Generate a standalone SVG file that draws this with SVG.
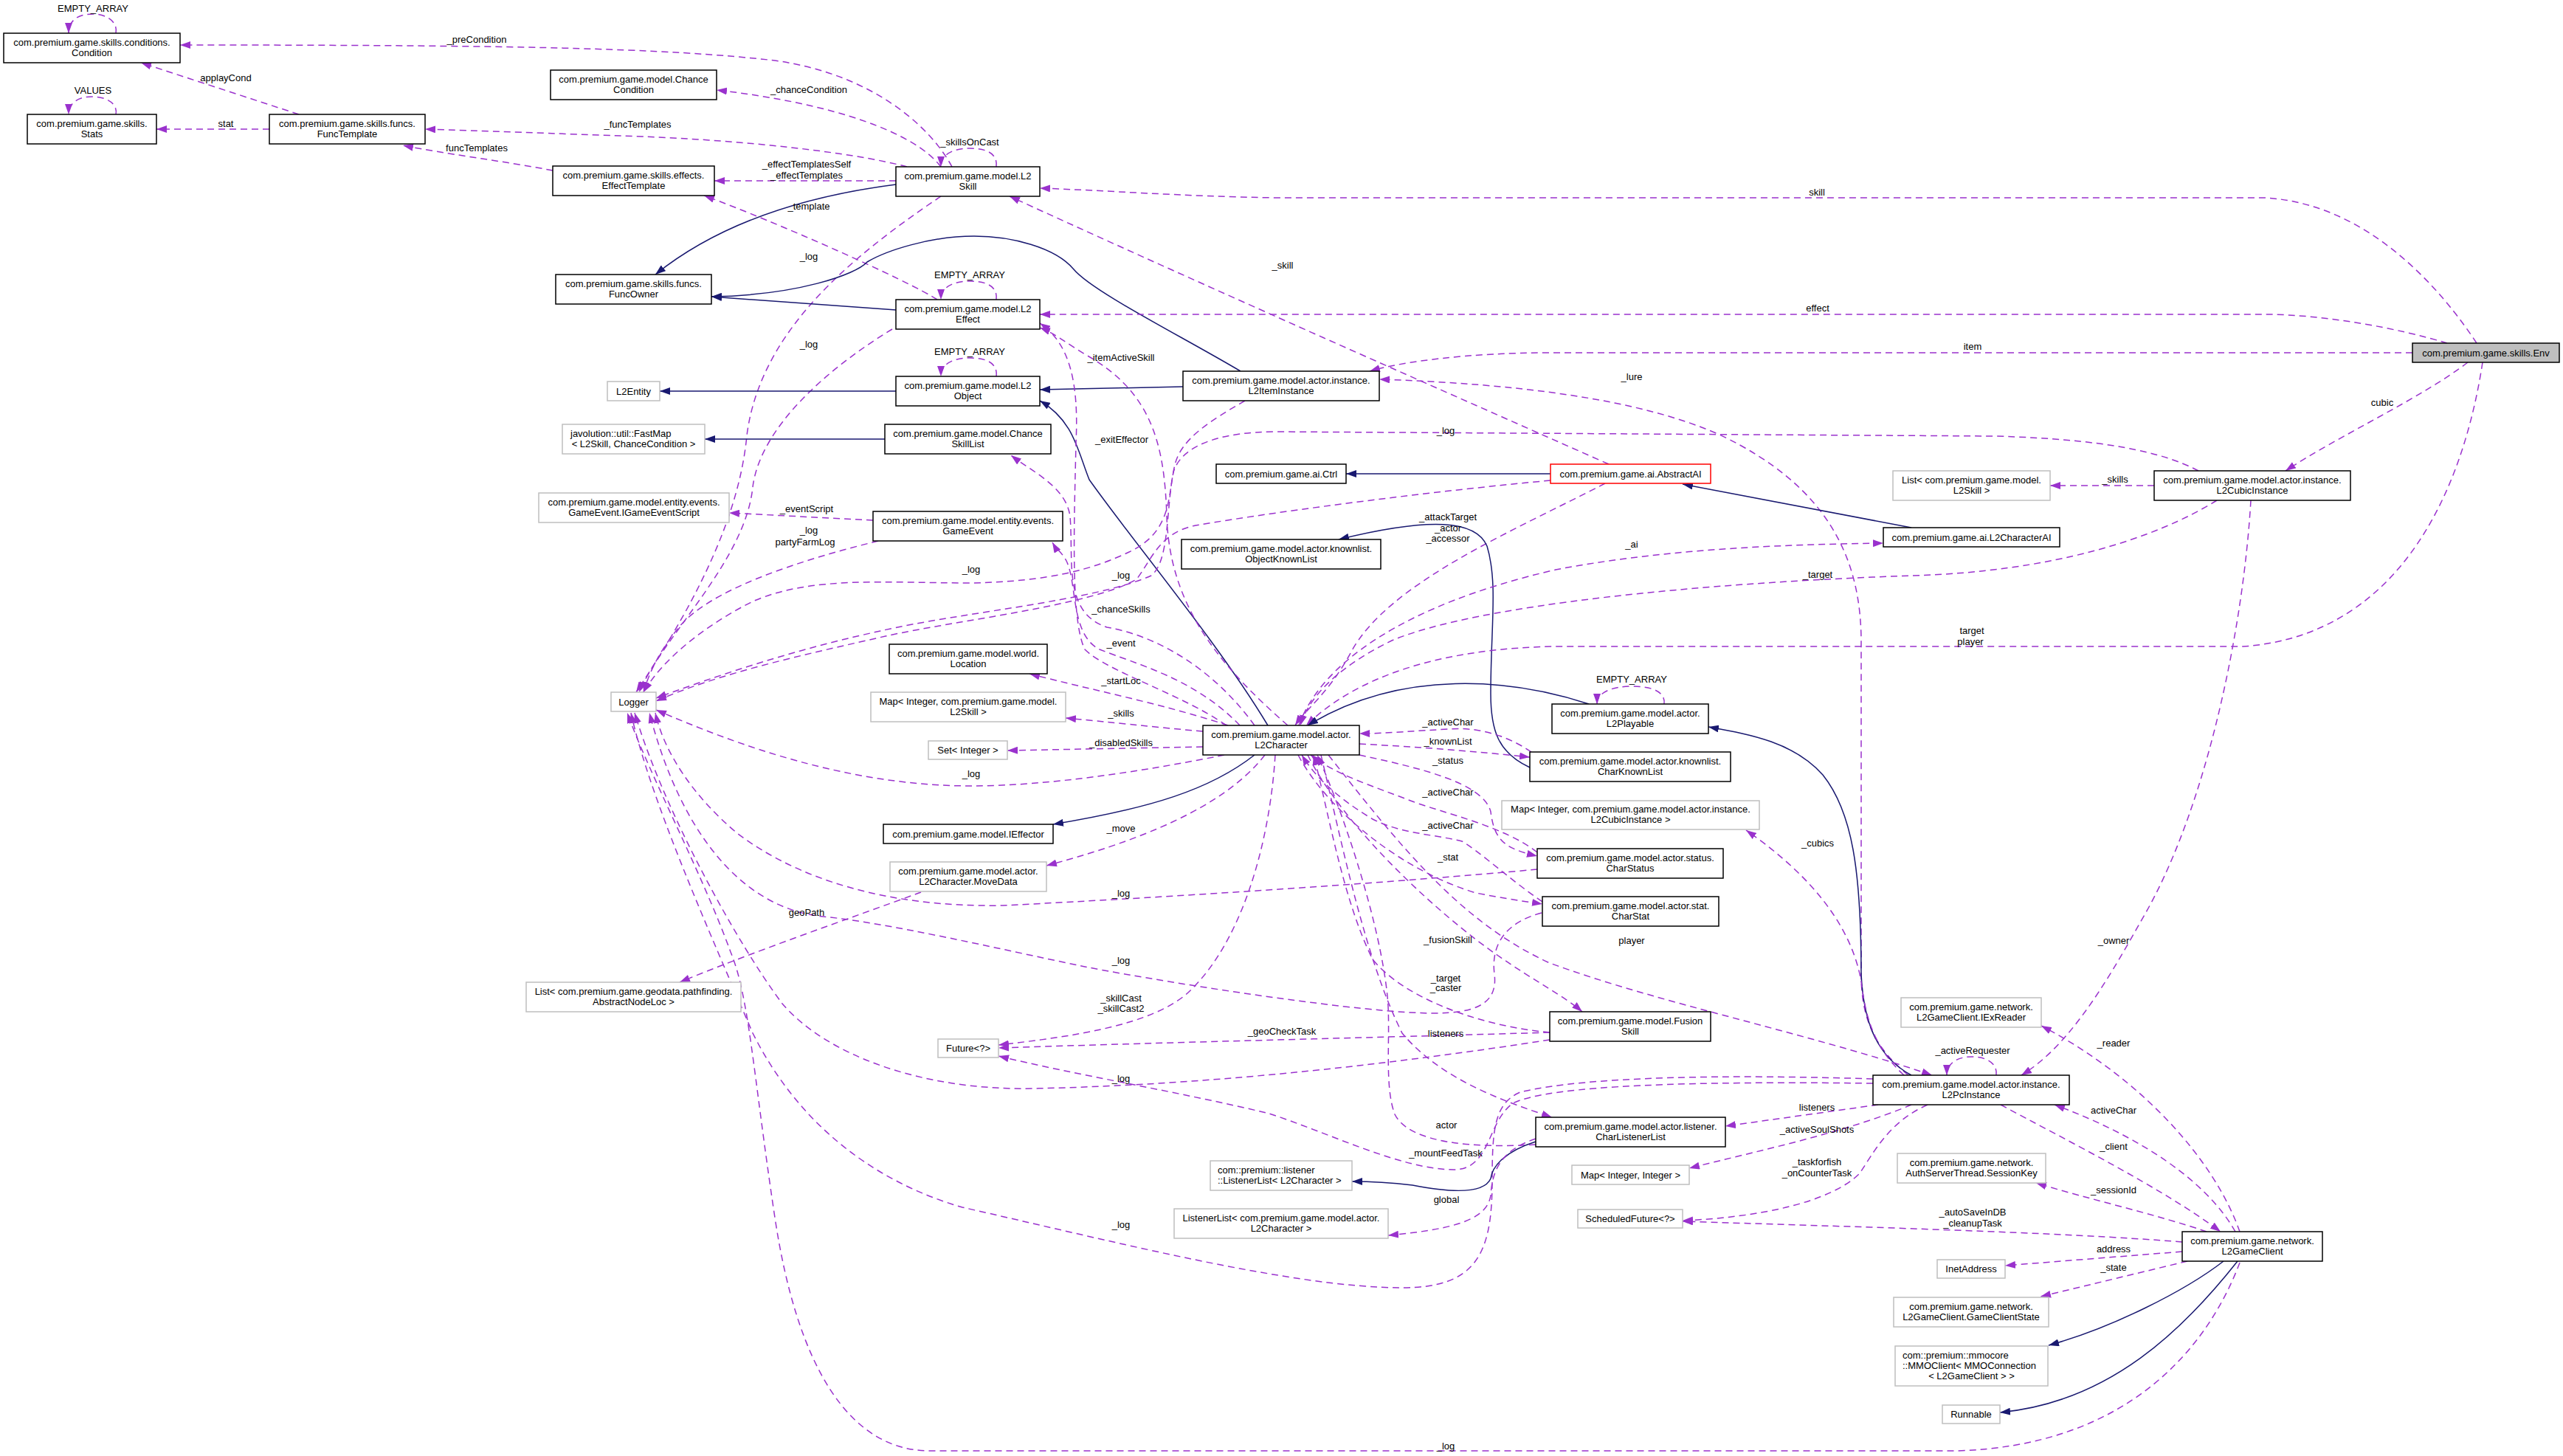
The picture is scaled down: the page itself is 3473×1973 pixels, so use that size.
<svg xmlns="http://www.w3.org/2000/svg" width="3473" height="1973" viewBox="0 0 3473 1973">
<style>
text{font-family:"Liberation Sans",Arial,sans-serif;font-size:13px;fill:#000}
.n text,.l text{text-anchor:middle}
.n text.st{text-anchor:start}
.n rect{fill:#fff;stroke:#000;stroke-width:1.5}
.n.g rect{stroke:#bfbfbf}
.n.r rect{stroke:#ff0000}
.n.s rect{fill:#bfbfbf}
.e{fill:none;stroke:#9a32cd;stroke-width:1.5;stroke-dasharray:9,6;marker-end:url(#ap)}
.i{fill:none;stroke:#191970;stroke-width:1.5;marker-end:url(#an)}
</style>
<defs>
<marker id="ap" viewBox="0 0 14 10" refX="14" refY="5" markerWidth="14" markerHeight="10" markerUnits="userSpaceOnUse" orient="auto"><path d="M0,0 L14,5 L0,10 z" fill="#9a32cd"/></marker>
<marker id="an" viewBox="0 0 14 10" refX="14" refY="5" markerWidth="14" markerHeight="10" markerUnits="userSpaceOnUse" orient="auto"><path d="M0,0 L14,5 L0,10 z" fill="#191970"/></marker>
</defs>
<rect width="3473" height="1973" fill="#fff"/>
<g id="edges">
<path class="e" d="M157,45 C160,30 145,19 126,19 C105,19 93,28 93,45"/>
<path class="e" d="M157,155 C160,141 145,131 125,131 C105,131 93,140 93,155"/>
<path class="e" d="M1290,226 C1260,170 1180,100 1050,82 C900,65 700,61 244,61"/>
<path class="e" d="M405,155 L191,85"/>
<path class="e" d="M365,175 L212,175"/>
<path class="e" d="M1275,226 C1240,180 1130,140 971,122"/>
<path class="e" d="M1229,226 C1150,205 1000,190 870,185 C750,181 650,177 576,175"/>
<path class="e" d="M1350,226 C1352,210 1340,201 1314,201 C1290,201 1275,210 1275,226"/>
<path class="e" d="M1214,245 L968,245"/>
<path class="e" d="M749,231 C680,218 600,208 546,197"/>
<path class="i" d="M1214,250 C1120,262 990,290 888,372"/>
<path class="e" d="M1270,406 C1230,380 1050,300 954,265"/>
<path class="e" d="M1275,266 C1150,350 1030,450 1012,590 C1000,720 920,850 862,938"/>
<path class="e" d="M1209,446 C1120,500 1030,580 1020,660 C1010,760 900,860 866,938"/>
<path class="i" d="M1214,420 L964,402"/>
<path class="i" d="M1681,503 C1600,455 1480,395 1455,365 C1430,335 1370,320 1320,320 C1260,320 1200,340 1175,355 C1160,372 1080,400 964,402"/>
<path class="e" d="M1350,406 C1352,390 1340,381 1314,381 C1290,381 1275,390 1275,406"/>
<path class="e" d="M1350,510 C1352,494 1340,485 1314,485 C1290,485 1275,494 1275,510"/>
<path class="i" d="M1214,530 L894,530"/>
<path class="i" d="M1603,524 L1409,528"/>
<path class="i" d="M1199,595 L955,595"/>
<path class="i" d="M1718,983 C1650,870 1540,740 1476,650 C1460,610 1455,570 1409,543"/>
<path class="e" d="M1745,983 C1650,900 1585,820 1581,700 C1578,600 1560,530 1470,480 C1445,465 1430,452 1409,444"/>
<path class="e" d="M1662,983 C1600,940 1500,910 1470,880 C1450,840 1456,700 1458,600 C1462,520 1450,465 1409,438"/>
<path class="e" d="M1700,983 C1640,900 1560,860 1500,850 C1440,830 1455,760 1450,700 C1445,660 1400,640 1370,617"/>
<path class="e" d="M1680,983 C1620,920 1540,900 1490,880 C1450,860 1460,790 1445,760 C1440,750 1430,742 1426,735"/>
<path class="e" d="M3356,465 C3310,395 3210,275 3068,268 L1730,268 C1600,266 1500,258 1409,255"/>
<path class="e" d="M2180,629 C1900,505 1650,395 1368,266"/>
<path class="e" d="M3316,465 C3250,445 3150,426 3068,426 L1409,426"/>
<path class="e" d="M3269,478 L2100,478 C1990,478 1900,490 1856,503"/>
<path class="e" d="M2586,1457 C2540,1420 2522,1380 2522,1320 L2522,870 C2522,760 2480,660 2330,589 C2220,540 2053,520 1869,514"/>
<path class="e" d="M2979,638 C2930,612 2850,595 2703,591 L1730,585 C1650,585 1600,605 1590,640 C1580,690 1585,760 1560,780 C1480,815 1300,830 1193,855 C1100,875 1000,905 889,946"/>
<path class="e" d="M1687,543 C1640,570 1600,595 1592,630 C1582,670 1590,720 1530,748 C1480,772 1420,788 1316,790 C1200,790 1100,780 1020,815 C960,845 900,890 872,938"/>
<path class="e" d="M2101,651 C1950,665 1750,690 1620,712 C1570,722 1560,760 1540,785 C1480,820 1300,840 1200,862 C1100,885 980,910 889,950"/>
<path class="e" d="M2175,655 C2050,720 1880,790 1830,885 C1800,940 1770,960 1755,983"/>
<path class="i" d="M2073,1040 C2030,1020 2020,990 2020,940 C2020,850 2030,790 2015,740 C2000,705 1940,700 1814,731"/>
<path class="e" d="M1760,983 C1790,900 1900,820 2108,772 C2250,745 2400,738 2552,736"/>
<path class="e" d="M3004,678 C2920,730 2780,775 2590,780 C2300,790 2000,820 1886,868 C1820,900 1775,940 1762,983"/>
<path class="e" d="M3364,491 C3340,650 3260,860 3040,876 L2108,876 C1980,878 1850,905 1770,983"/>
<path class="i" d="M2153,954 C2050,920 1900,905 1772,983"/>
<path class="e" d="M2255,954 C2257,938 2240,930 2211,930 C2185,930 2164,938 2164,954"/>
<path class="i" d="M2590,1457 C2540,1430 2525,1380 2522,1320 C2522,1180 2510,1100 2470,1050 C2430,1005 2370,995 2315,985"/>
<path class="e" d="M2580,1457 C2540,1420 2528,1380 2522,1330 C2510,1260 2460,1190 2366,1125"/>
<path class="e" d="M3050,678 C3040,850 2990,1100 2900,1250 C2850,1340 2800,1420 2739,1457"/>
<path class="e" d="M3035,1669 C3000,1570 2900,1460 2766,1390"/>
<path class="e" d="M2705,1457 C2707,1441 2692,1432 2672,1432 C2652,1432 2638,1441 2638,1457"/>
<path class="e" d="M3029,1669 C2990,1600 2900,1540 2784,1497"/>
<path class="e" d="M2711,1497 C2800,1545 2930,1610 3009,1669"/>
<path class="e" d="M2990,1669 C2920,1645 2830,1625 2759,1603"/>
<path class="e" d="M2957,1683 C2800,1670 2500,1662 2280,1655"/>
<path class="e" d="M2612,1497 C2560,1520 2540,1560 2520,1590 C2480,1630 2380,1650 2280,1654"/>
<path class="e" d="M2590,1497 C2500,1535 2380,1560 2289,1583"/>
<path class="e" d="M2545,1497 L2338,1526"/>
<path class="e" d="M2957,1696 L2717,1715"/>
<path class="e" d="M2964,1709 L2765,1757"/>
<path class="i" d="M3013,1709 C2960,1750 2860,1800 2776,1823"/>
<path class="i" d="M3032,1709 C2960,1800 2860,1900 2710,1914"/>
<path class="e" d="M3035,1711 C2990,1830 2880,1960 2650,1966 L1260,1966 C1150,1966 1080,1850 1050,1650 C1020,1450 1015,1350 990,1290 C950,1180 880,1050 850,966"/>
<path class="e" d="M2083,1178 C1900,1195 1600,1215 1359,1227 C1200,1230 1080,1190 1000,1130 C940,1080 900,1020 888,966"/>
<path class="e" d="M2089,1237 C2040,1250 2020,1280 2025,1320 C2030,1360 2000,1373 1942,1373 C1850,1373 1600,1335 1470,1310 C1350,1285 1200,1250 1115,1242 C1000,1230 920,1120 880,966"/>
<path class="e" d="M2100,1409 C1900,1440 1650,1470 1400,1475 C1250,1478 1120,1430 1060,1360 C1000,1280 900,1100 860,966"/>
<path class="e" d="M2538,1462 C2350,1456 2150,1458 2060,1480 C2025,1495 2022,1530 2022,1600 C2022,1700 2000,1745 1900,1745 C1750,1745 1500,1680 1304,1636 C1180,1600 1080,1520 1020,1400 C960,1260 880,1080 855,966"/>
<path class="e" d="M2538,1468 C2300,1465 2100,1470 2050,1495 C2015,1520 2020,1585 1970,1585 C1900,1585 1800,1535 1720,1509 C1600,1480 1450,1455 1353,1431"/>
<path class="e" d="M2081,1551 C2000,1556 1910,1550 1890,1510 C1875,1470 1885,1400 1880,1350 C1870,1250 1820,1100 1785,1023"/>
<path class="e" d="M1790,1023 C1820,1150 1850,1300 1900,1400 C1950,1460 2030,1490 2103,1514"/>
<path class="e" d="M1772,1023 C1820,1120 1950,1240 2030,1295 C2080,1330 2120,1350 2144,1371"/>
<path class="e" d="M2100,1399 C2000,1390 1900,1350 1860,1300 C1820,1220 1800,1100 1780,1023"/>
<path class="e" d="M1800,1023 C1900,1150 1980,1250 2100,1305 C2250,1360 2450,1400 2618,1457"/>
<path class="e" d="M2075,1019 C2040,995 2000,985 1964,988 C1920,990 1880,994 1842,994"/>
<path class="e" d="M1842,1008 C1920,1012 2000,1018 2073,1026"/>
<path class="e" d="M1842,1023 C1920,1040 2010,1060 2020,1100 C2025,1140 2040,1150 2083,1160"/>
<path class="e" d="M2083,1155 C2040,1120 1950,1100 1914,1086 C1860,1065 1810,1050 1776,1023"/>
<path class="e" d="M2090,1222 C2050,1195 2000,1150 1981,1140 C1940,1130 1900,1130 1860,1110 C1810,1080 1780,1050 1764,1023"/>
<path class="e" d="M1759,1023 C1800,1100 1900,1180 2000,1210 C2040,1218 2070,1222 2090,1225"/>
<path class="e" d="M1664,983 C1580,955 1480,935 1395,913"/>
<path class="e" d="M1630,991 C1560,985 1500,978 1444,973"/>
<path class="e" d="M1630,1012 L1365,1017"/>
<path class="e" d="M1659,1023 C1550,1045 1420,1065 1316,1065 C1150,1065 1000,1010 889,962"/>
<path class="i" d="M1700,1023 C1640,1070 1560,1095 1427,1117"/>
<path class="e" d="M1714,1023 C1670,1080 1580,1130 1418,1173"/>
<path class="e" d="M1728,1023 C1720,1150 1680,1280 1610,1345 C1560,1390 1450,1405 1353,1416"/>
<path class="e" d="M2100,1399 C1900,1405 1600,1412 1353,1420"/>
<path class="e" d="M1248,1209 C1150,1245 1020,1290 921,1331"/>
<path class="i" d="M2081,1547 C2040,1560 2022,1580 2020,1597 C2010,1620 1960,1615 1914,1606 C1880,1602 1850,1601 1832,1601"/>
<path class="e" d="M2081,1543 C2030,1560 2022,1590 2020,1620 C2015,1650 1980,1665 1881,1674"/>
<path class="e" d="M1183,705 L988,695"/>
<path class="e" d="M1190,733 C1080,760 960,800 920,850 C895,880 880,910 872,938"/>
<path class="i" d="M2101,642 L1824,642"/>
<path class="i" d="M2590,715 L2280,656"/>
<path class="e" d="M2919,658 L2778,658"/>
<path class="e" d="M3344,491 C3280,540 3170,590 3097,638"/>
</g>
<g id="labels" class="l">
<text x="126" y="16">EMPTY_ARRAY</text>
<text x="646" y="58">_preCondition</text>
<text x="126" y="126.5">VALUES</text>
<text x="306" y="109.5">applayCond</text>
<text x="306" y="171.5">stat</text>
<text x="1096" y="125.5">_chanceCondition</text>
<text x="864" y="172.5">_funcTemplates</text>
<text x="646" y="204.5">funcTemplates</text>
<text x="1314" y="196.5">_skillsOnCast</text>
<text x="1093" y="226.5">_effectTemplatesSelf</text>
<text x="1093" y="241.5">_effectTemplates</text>
<text x="2462" y="264.5">skill</text>
<text x="1096" y="283.5">_template</text>
<text x="1096" y="351.5">_log</text>
<text x="1738" y="363.5">_skill</text>
<text x="1314" y="376.5">EMPTY_ARRAY</text>
<text x="2463" y="422">effect</text>
<text x="1096" y="470.5">_log</text>
<text x="2673" y="473.5">item</text>
<text x="1314" y="480.5">EMPTY_ARRAY</text>
<text x="1519" y="489">_itemActiveSkill</text>
<text x="2211" y="515">_lure</text>
<text x="3228" y="549.5">cubic</text>
<text x="1959" y="587.5">_log</text>
<text x="1520" y="599.5">_exitEffector</text>
<text x="2866" y="654">_skills</text>
<text x="1093" y="693.5">_eventScript</text>
<text x="1962" y="704.5">_attackTarget</text>
<text x="1962" y="719.5">_actor</text>
<text x="1962" y="734">_accessor</text>
<text x="1096" y="722.5">_log</text>
<text x="1091" y="738.5">partyFarmLog</text>
<text x="2211" y="742">_ai</text>
<text x="1316" y="775.5">_log</text>
<text x="1519" y="783.5">_log</text>
<text x="2463" y="782.5">_target</text>
<text x="1519" y="829.5">_chanceSkills</text>
<text x="2672" y="858.5">target</text>
<text x="2670" y="873.5">player</text>
<text x="1519" y="875.5">_event</text>
<text x="2211" y="924.5">EMPTY_ARRAY</text>
<text x="1519" y="927">_startLoc</text>
<text x="1519" y="970.5">_skills</text>
<text x="1962" y="983">_activeChar</text>
<text x="1962" y="1008.5">_knownList</text>
<text x="1519" y="1010.5">_disabledSkills</text>
<text x="1962" y="1035">_status</text>
<text x="1316" y="1053">_log</text>
<text x="1962" y="1078">_activeChar</text>
<text x="1962" y="1123">_activeChar</text>
<text x="1519" y="1127">_move</text>
<text x="2463" y="1147">_cubics</text>
<text x="1962" y="1166">_stat</text>
<text x="1519" y="1214.5">_log</text>
<text x="1093" y="1241">geoPath</text>
<text x="1962" y="1277.5">_fusionSkill</text>
<text x="2211" y="1279">player</text>
<text x="2864" y="1278.5">_owner</text>
<text x="1519" y="1305.5">_log</text>
<text x="1959" y="1329.5">_target</text>
<text x="1959" y="1343">_caster</text>
<text x="1519" y="1356.5">_skillCast</text>
<text x="1519" y="1370.5">_skillCast2</text>
<text x="1737" y="1402">_geoCheckTask</text>
<text x="1959" y="1404.5">listeners</text>
<text x="2864" y="1417.5">_reader</text>
<text x="2673" y="1427.5">_activeRequester</text>
<text x="1519" y="1465.5">_log</text>
<text x="2462" y="1504.5">listeners</text>
<text x="2864" y="1509">activeChar</text>
<text x="1960" y="1528.5">actor</text>
<text x="2462" y="1534.5">_activeSoulShots</text>
<text x="2864" y="1558">_client</text>
<text x="1959" y="1566.5">_mountFeedTask</text>
<text x="2462" y="1578.5">_taskforfish</text>
<text x="2462" y="1594">_onCounterTask</text>
<text x="2864" y="1616.5">_sessionId</text>
<text x="1960" y="1629.5">global</text>
<text x="2673" y="1646.5">_autoSaveInDB</text>
<text x="2673" y="1661.5">_cleanupTask</text>
<text x="1519" y="1663.5">_log</text>
<text x="2864" y="1696.5">address</text>
<text x="2864" y="1722">_state</text>
<text x="1959" y="1963.5">_log</text>
</g>
<g id="n_condition" class="n"><rect x="5" y="45" width="239" height="40"/><text x="124.5" y="61.5">com.premium.game.skills.conditions.</text><text x="124.5" y="75.5">Condition</text></g>
<g id="n_stats" class="n"><rect x="37" y="155" width="175" height="40"/><text x="124.5" y="171.5">com.premium.game.skills.</text><text x="124.5" y="185.5">Stats</text></g>
<g id="n_functemplate" class="n"><rect x="365" y="155" width="211" height="40"/><text x="470.5" y="171.5">com.premium.game.skills.funcs.</text><text x="470.5" y="185.5">FuncTemplate</text></g>
<g id="n_chancecondition" class="n"><rect x="746" y="95" width="225" height="40"/><text x="858.5" y="111.5">com.premium.game.model.Chance</text><text x="858.5" y="125.5">Condition</text></g>
<g id="n_effecttemplate" class="n"><rect x="749" y="225" width="219" height="40"/><text x="858.5" y="241.5">com.premium.game.skills.effects.</text><text x="858.5" y="255.5">EffectTemplate</text></g>
<g id="n_funcowner" class="n"><rect x="753" y="372" width="211" height="40"/><text x="858.5" y="388.5">com.premium.game.skills.funcs.</text><text x="858.5" y="402.5">FuncOwner</text></g>
<g id="n_l2entity" class="n g"><rect x="823" y="517" width="71" height="26"/><text x="858.5" y="534.5">L2Entity</text></g>
<g id="n_fastmap" class="n g"><rect x="762" y="575" width="193" height="40"/><text class="st" x="773" y="591.5">javolution::util::FastMap</text><text x="858.5" y="605.5">&lt; L2Skill, ChanceCondition &gt;</text></g>
<g id="n_igameeventscript" class="n g"><rect x="730" y="668" width="258" height="40"/><text x="859" y="684.5">com.premium.game.model.entity.events.</text><text x="859" y="698.5">GameEvent.IGameEventScript</text></g>
<g id="n_logger" class="n g"><rect x="828" y="938" width="61" height="26"/><text x="858.5" y="955.5">Logger</text></g>
<g id="n_abstractnodeloc" class="n g"><rect x="713" y="1331" width="291" height="40"/><text x="858.5" y="1347.5">List&lt; com.premium.game.geodata.pathfinding.</text><text x="858.5" y="1361.5">AbstractNodeLoc &gt;</text></g>
<g id="n_l2skill" class="n"><rect x="1214" y="226" width="195" height="40"/><text x="1311.5" y="242.5">com.premium.game.model.L2</text><text x="1311.5" y="256.5">Skill</text></g>
<g id="n_l2effect" class="n"><rect x="1214" y="406" width="195" height="40"/><text x="1311.5" y="422.5">com.premium.game.model.L2</text><text x="1311.5" y="436.5">Effect</text></g>
<g id="n_l2object" class="n"><rect x="1214" y="510" width="195" height="40"/><text x="1311.5" y="526.5">com.premium.game.model.L2</text><text x="1311.5" y="540.5">Object</text></g>
<g id="n_chanceskilllist" class="n"><rect x="1199" y="575" width="225" height="40"/><text x="1311.5" y="591.5">com.premium.game.model.Chance</text><text x="1311.5" y="605.5">SkillList</text></g>
<g id="n_gameevent" class="n"><rect x="1183" y="693" width="257" height="40"/><text x="1311.5" y="709.5">com.premium.game.model.entity.events.</text><text x="1311.5" y="723.5">GameEvent</text></g>
<g id="n_location" class="n"><rect x="1205" y="873" width="214" height="40"/><text x="1312" y="889.5">com.premium.game.model.world.</text><text x="1312" y="903.5">Location</text></g>
<g id="n_mapskill" class="n g"><rect x="1180" y="938" width="264" height="40"/><text x="1312" y="954.5">Map&lt; Integer, com.premium.game.model.</text><text x="1312" y="968.5">L2Skill &gt;</text></g>
<g id="n_setinteger" class="n g"><rect x="1258" y="1004" width="107" height="25"/><text x="1311.5" y="1021">Set&lt; Integer &gt;</text></g>
<g id="n_ieffector" class="n"><rect x="1197" y="1117" width="230" height="26"/><text x="1312" y="1134.5">com.premium.game.model.IEffector</text></g>
<g id="n_movedata" class="n g"><rect x="1206" y="1168" width="212" height="40"/><text x="1312" y="1184.5">com.premium.game.model.actor.</text><text x="1312" y="1198.5">L2Character.MoveData</text></g>
<g id="n_future" class="n g"><rect x="1271" y="1408" width="82" height="25"/><text x="1312" y="1425">Future&lt;?&gt;</text></g>
<g id="n_l2iteminstance" class="n"><rect x="1603" y="503" width="266" height="40"/><text x="1736" y="519.5">com.premium.game.model.actor.instance.</text><text x="1736" y="533.5">L2ItemInstance</text></g>
<g id="n_ctrl" class="n"><rect x="1648" y="629" width="176" height="26"/><text x="1736" y="646.5">com.premium.game.ai.Ctrl</text></g>
<g id="n_objectknownlist" class="n"><rect x="1601" y="731" width="270" height="40"/><text x="1736" y="747.5">com.premium.game.model.actor.knownlist.</text><text x="1736" y="761.5">ObjectKnownList</text></g>
<g id="n_l2character" class="n"><rect x="1630" y="983" width="212" height="40"/><text x="1736" y="999.5">com.premium.game.model.actor.</text><text x="1736" y="1013.5">L2Character</text></g>
<g id="n_listenerlist" class="n g"><rect x="1640" y="1573" width="192" height="40"/><text class="st" x="1650" y="1589.5">com::premium::listener</text><text class="st" x="1650" y="1603.5">::ListenerList&lt; L2Character &gt;</text></g>
<g id="n_listenerlistl2c" class="n g"><rect x="1591" y="1638" width="290" height="40"/><text x="1736" y="1654.5">ListenerList&lt; com.premium.game.model.actor.</text><text x="1736" y="1668.5">L2Character &gt;</text></g>
<g id="n_abstractai" class="n r"><rect x="2101" y="629" width="217" height="26"/><text x="2209.5" y="646.5">com.premium.game.ai.AbstractAI</text></g>
<g id="n_l2playable" class="n"><rect x="2103" y="954" width="212" height="40"/><text x="2209" y="970.5">com.premium.game.model.actor.</text><text x="2209" y="984.5">L2Playable</text></g>
<g id="n_charknownlist" class="n"><rect x="2073" y="1019" width="272" height="40"/><text x="2209" y="1035.5">com.premium.game.model.actor.knownlist.</text><text x="2209" y="1049.5">CharKnownList</text></g>
<g id="n_mapcubic" class="n g"><rect x="2035" y="1085" width="349" height="39"/><text x="2209.5" y="1101">Map&lt; Integer, com.premium.game.model.actor.instance.</text><text x="2209.5" y="1115">L2CubicInstance &gt;</text></g>
<g id="n_charstatus" class="n"><rect x="2083" y="1150" width="252" height="40"/><text x="2209" y="1166.5">com.premium.game.model.actor.status.</text><text x="2209" y="1180.5">CharStatus</text></g>
<g id="n_charstat" class="n"><rect x="2090" y="1215" width="239" height="40"/><text x="2209.5" y="1231.5">com.premium.game.model.actor.stat.</text><text x="2209.5" y="1245.5">CharStat</text></g>
<g id="n_fusionskill" class="n"><rect x="2100" y="1371" width="218" height="40"/><text x="2209" y="1387.5">com.premium.game.model.Fusion</text><text x="2209" y="1401.5">Skill</text></g>
<g id="n_charlistenerlist" class="n"><rect x="2081" y="1514" width="257" height="40"/><text x="2209.5" y="1530.5">com.premium.game.model.actor.listener.</text><text x="2209.5" y="1544.5">CharListenerList</text></g>
<g id="n_mapintint" class="n g"><rect x="2130" y="1579" width="159" height="26"/><text x="2209.5" y="1596.5">Map&lt; Integer, Integer &gt;</text></g>
<g id="n_scheduledfuture" class="n g"><rect x="2138" y="1639" width="142" height="25"/><text x="2209" y="1656">ScheduledFuture&lt;?&gt;</text></g>
<g id="n_listl2skill" class="n g"><rect x="2565" y="638" width="213" height="40"/><text x="2671.5" y="654.5">List&lt; com.premium.game.model.</text><text x="2671.5" y="668.5">L2Skill &gt;</text></g>
<g id="n_l2characterai" class="n"><rect x="2552" y="715" width="239" height="26"/><text x="2671.5" y="732.5">com.premium.game.ai.L2CharacterAI</text></g>
<g id="n_iexreader" class="n g"><rect x="2576" y="1352" width="190" height="40"/><text x="2671" y="1368.5">com.premium.game.network.</text><text x="2671" y="1382.5">L2GameClient.IExReader</text></g>
<g id="n_l2pcinstance" class="n"><rect x="2538" y="1457" width="266" height="40"/><text x="2671" y="1473.5">com.premium.game.model.actor.instance.</text><text x="2671" y="1487.5">L2PcInstance</text></g>
<g id="n_sessionkey" class="n g"><rect x="2571" y="1563" width="201" height="40"/><text x="2671.5" y="1579.5">com.premium.game.network.</text><text x="2671.5" y="1593.5">AuthServerThread.SessionKey</text></g>
<g id="n_inetaddress" class="n g"><rect x="2625" y="1707" width="92" height="25"/><text x="2671" y="1724">InetAddress</text></g>
<g id="n_gameclientstate" class="n g"><rect x="2566" y="1758" width="210" height="40"/><text x="2671" y="1774.5">com.premium.game.network.</text><text x="2671" y="1788.5">L2GameClient.GameClientState</text></g>
<g id="n_mmoclient" class="n g"><rect x="2568" y="1824" width="207" height="54"/><text class="st" x="2578" y="1840.5">com::premium::mmocore</text><text class="st" x="2578" y="1854.5">::MMOClient&lt; MMOConnection</text><text x="2671.5" y="1868.5">&lt; L2GameClient &gt; &gt;</text></g>
<g id="n_runnable" class="n g"><rect x="2632" y="1904" width="78" height="25"/><text x="2671" y="1921">Runnable</text></g>
<g id="n_l2cubicinstance" class="n"><rect x="2919" y="638" width="266" height="40"/><text x="3052" y="654.5">com.premium.game.model.actor.instance.</text><text x="3052" y="668.5">L2CubicInstance</text></g>
<g id="n_l2gameclient" class="n"><rect x="2957" y="1669" width="190" height="40"/><text x="3052" y="1685.5">com.premium.game.network.</text><text x="3052" y="1699.5">L2GameClient</text></g>
<g id="n_env" class="n s"><rect x="3269" y="465" width="199" height="26"/><text x="3368.5" y="482.5">com.premium.game.skills.Env</text></g>
</svg>
